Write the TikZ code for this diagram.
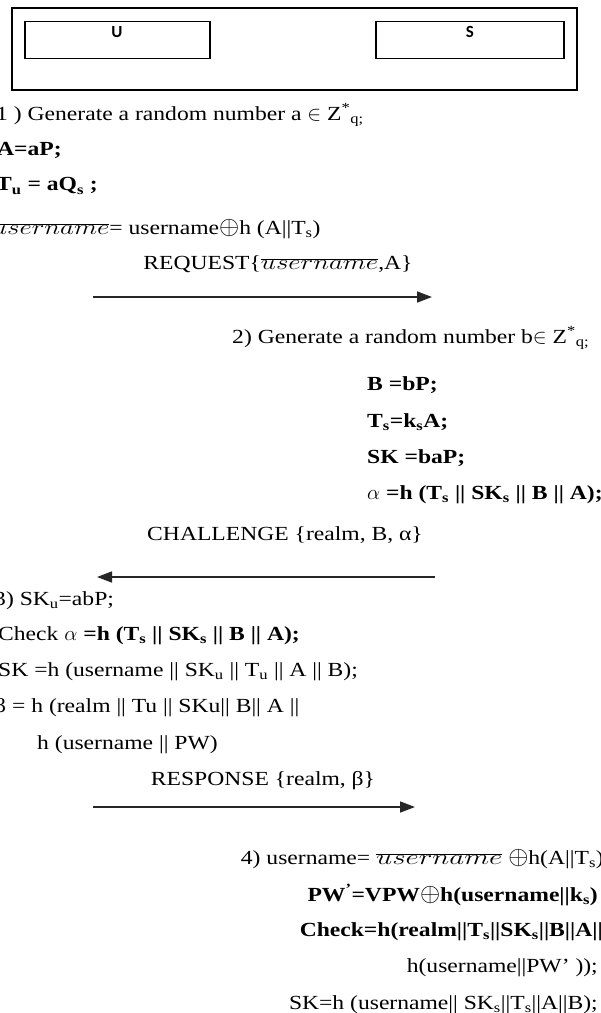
\documentclass[tikz,border=0pt]{standalone}
\usepackage{fontspec}
\usepackage{graphicx}
\setmainfont{Liberation Serif}[FakeStretch=1.18]
\newfontfamily\boxfont{Carlito}
\usetikzlibrary{arrows.meta}
\tikzset{
  frame/.style={draw, line width=1.3pt, inner sep=0pt},
  boxlabel/.style={inner sep=0pt, font=\boxfont\fontsize{17}{19}\selectfont\bfseries},
  lt/.style={anchor=west, inner sep=0pt, font=\fontsize{20}{23}\selectfont},
  rt/.style={anchor=east, inner sep=0pt, font=\fontsize{20}{23}\selectfont},
  msg/.style={inner sep=0pt, font=\fontsize{20}{23}\selectfont},
  arr/.style={-{Triangle[length=15pt,width=11pt]}, line width=1.6pt, draw=black!85},
}
\newcommand{\ubar}[1][1.3]{\scalebox{#1}[1]{$\overline{username}$}}
\newcommand{\xor}{\scalebox{1.25}{$\oplus$}}
\begin{document}
\begin{tikzpicture}[x=1pt,y=-1pt]
\useasboundingbox (0,0) rectangle (601,1013);
% header boxes
\node[frame, minimum width=565pt, minimum height=82pt] (outer) at (294.5,49) {};
\node[frame, minimum width=185pt, minimum height=37pt] (ubox) at (117.5,40) {};
\node[frame, minimum width=188pt, minimum height=37pt] (sbox) at (470,40) {};
\node[boxlabel] (ulab) at (117,32) {U};
\node[boxlabel] (slab) at (470,32) {S};
% step 1
\node[lt] (l1) at (-4,115) {1 ) Generate a random number a $\in$ Z\textsuperscript{*}\textsubscript{q;}};
\node[lt] (l2) at (-3,150) {\bfseries A=aP;};
\node[lt] (l3) at (-4,186) {\bfseries T\textsubscript{u} = aQ\textsubscript{s} ;};
\node[lt] (l4) at (-8,229) {\ubar= username\xor h (A||T\textsubscript{s})};
\node[msg] (m1) at (278,264) {REQUEST\{\ubar,A\}};
\coordinate (a1s) at (93,297);
\coordinate (a1e) at (432,297);
\draw[arr] (a1s) -- (a1e);
% step 2
\node[lt] (r1) at (232,338) {2) Generate a random number b$\in$ Z\textsuperscript{*}\textsubscript{q;}};
\node[lt] (r2) at (367,385) {\bfseries B =bP;};
\node[lt] (r3) at (367,422) {\bfseries T\textsubscript{s}=k\textsubscript{s}A;};
\node[lt] (r4) at (367,458) {\bfseries SK =baP;};
\node[lt] (r5) at (367,495) {\bfseries $\alpha$ =h (T\textsubscript{s} || SK\textsubscript{s} || B || A);};
\node[msg] (m2) at (285,535) {CHALLENGE \{realm, B, α\}};
\coordinate (a2s) at (435,577);
\coordinate (a2e) at (97,577);
\draw[arr] (a2s) -- (a2e);
% step 3
\node[lt] (u1) at (-6,601) {3) SK\textsubscript{u}=abP;};
\node[lt] (u2) at (-2,636) {Check \textbf{$\alpha$ =h (T\textsubscript{s} || SK\textsubscript{s} || B || A);}};
\node[lt] (u3) at (-2,672) {SK =h (username || SK\textsubscript{u} || T\textsubscript{u} || A || B);};
\node[lt] (u4) at (-6,708) {β = h (realm || Tu || SKu|| B|| A ||};
\node[lt] (u5) at (37,745) {h (username || PW)};
\node[msg] (m3) at (263,781) {RESPONSE \{realm, β\}};
\coordinate (a3s) at (93,807);
\coordinate (a3e) at (415,807);
\draw[arr] (a3s) -- (a3e);
% step 4
\node[rt] (s1) at (604,859) {4) username= \ubar[1.4]\ \xor h(A||T\textsubscript{s})};
\node[rt] (s2) at (598,895) {\bfseries PW\textsuperscript{'}=VPW\xor h(username||k\textsubscript{s})};
\node[rt] (s3) at (603,932) {\bfseries Check=h(realm||T\textsubscript{s}||SK\textsubscript{s}||B||A||};
\node[rt] (s4) at (598,968) {h(username||PW' ));};
\node[rt] (s5) at (598,1005) {SK=h (username|| SK\textsubscript{s}||T\textsubscript{s}||A||B);};
\end{tikzpicture}
\end{document}
